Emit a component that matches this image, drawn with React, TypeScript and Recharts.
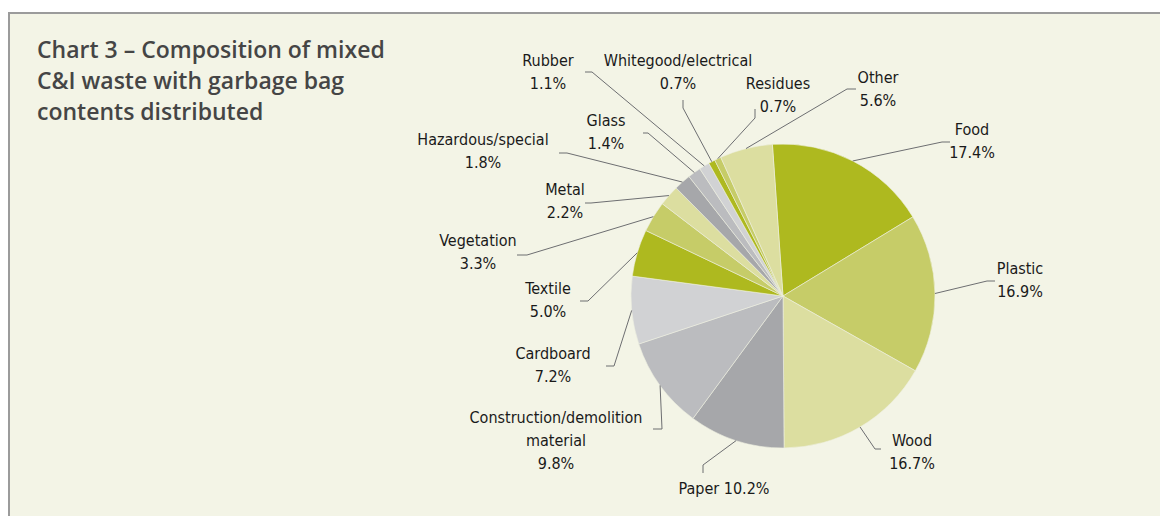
import { PieChart, Pie, Cell } from 'recharts';

const categories = [
    'Food', 'Plastic', 'Wood', 'Paper', 'Construction/demolition material', 'Cardboard', 'Textile',
    'Vegetation', 'Metal', 'Hazardous/special', 'Glass', 'Rubber', 'Whitegood/electrical', 'Residues', 'Other',
];
const shares = [17.4, 16.9, 16.7, 10.2, 9.8, 7.2, 5.0, 3.3, 2.2, 1.8, 1.4, 1.1, 0.7, 0.7, 5.6];
const palette = ['#aeb91f', '#c6cc68', '#dcdea0', '#a6a7aa', '#bbbcbf', '#d1d2d4'];

const CX = 783;
const CY = 296;
const R = 152;

// label placement relative to pie centre: text centre (tx, ty of first line), leader elbow and end
type LabelLayout = { lines?: string[]; tx: number; ty: number; elbow: [number, number]; end: [number, number] };
const layout: Record<string, LabelLayout> = {
    'Food': { tx: 189, ty: -167, elbow: [159, -154], end: [167, -154] },
    'Plastic': { tx: 237, ty: -28, elbow: [204, -15], end: [212, -15] },
    'Wood': { tx: 129, ty: 144, elbow: [92, 153], end: [98, 153] },
    'Paper': { lines: ['Paper 10.2%'], tx: -59, ty: 192, elbow: [-80, 169], end: [-80, 177] },
    'Construction/demolition material': { lines: ['Construction/demolition', 'material'], tx: -227, ty: 121, elbow: [-121, 133], end: [-130, 133] },
    'Cardboard': { tx: -230, ty: 57, elbow: [-169, 70], end: [-177, 70] },
    'Textile': { tx: -235, ty: -8, elbow: [-195, 5], end: [-203, 5] },
    'Vegetation': { tx: -305, ty: -56, elbow: [-256, -41], end: [-266, -41] },
    'Metal': { tx: -218, ty: -107, elbow: [-192, -93], end: [-198, -93] },
    'Hazardous/special': { tx: -300, ty: -157, elbow: [-216, -143], end: [-224, -143] },
    'Glass': { tx: -177, ty: -176, elbow: [-135, -163], end: [-140, -163] },
    'Rubber': { tx: -235, ty: -236, elbow: [-191, -224], end: [-198, -224] },
    'Whitegood/electrical': { tx: -105, ty: -236, elbow: [-100, -188], end: [-100, -196] },
    'Residues': { tx: -5, ty: -213, elbow: [-28, -178], end: [-28, -187] },
    'Other': { tx: 95, ty: -219, elbow: [64, -207], end: [73, -207] },
};

const data = categories.map((name, i) => ({ name, value: shares[i] }));

const RAD = Math.PI / 180;

function renderLabel(props: any) {
    const { cx, cy, midAngle, outerRadius, name, value } = props;
    const l = layout[name];
    if (!l) return null;
    const sx = cx + outerRadius * Math.cos(-midAngle * RAD);
    const sy = cy + outerRadius * Math.sin(-midAngle * RAD);
    const lines = l.lines ? [...l.lines] : [name];
    if (!l.lines || lines.length > 1) lines.push(`${value.toFixed(1)}%`);
    return (
        <g>
            <polyline
                points={`${sx},${sy} ${cx + l.elbow[0]},${cy + l.elbow[1]} ${cx + l.end[0]},${cy + l.end[1]}`}
                fill="none"
                stroke="#6d6e71"
                strokeWidth={1}
            />
            <text
                x={cx + l.tx}
                y={cy + l.ty}
                textAnchor="middle"
                fill="#1a1a1a"
                fontFamily="'DejaVu Sans Condensed', 'DejaVu Sans', sans-serif"
                fontStretch="condensed"
                fontSize={16}
            >
                {lines.map((t, i) => (
                    <tspan key={i} x={cx + l.tx} dy={i === 0 ? '0.35em' : 23}>{t}</tspan>
                ))}
            </text>
        </g>
    );
}

export default function App() {
    return (
        <div style={{ position: 'absolute', left: 0, top: 0, width: 1160, height: 516, background: '#ffffff', overflow: 'hidden' }}>
            <div
                style={{
                    position: 'absolute', left: 8, top: 12, width: 1152, height: 504,
                    background: '#f3f4e6', borderTop: '2px solid #9b9b9b', borderLeft: '2px solid #9b9b9b',
                }}
            />
            <div
                style={{
                    position: 'absolute', left: 37, top: 34, width: 420,
                    fontFamily: "'Open Sans', sans-serif", fontWeight: 600, fontSize: 23, lineHeight: '31px', color: '#454545',
                }}
            >
                Chart 3 – Composition of mixed<br />C&amp;I waste with garbage bag<br />contents distributed
            </div>
            <div style={{ position: 'absolute', left: 0, top: 0 }}>
                <PieChart width={1160} height={516} margin={{ top: 0, right: 0, bottom: 0, left: 0 }}>
                    <Pie
                        data={data}
                        dataKey="value"
                        nameKey="name"
                        cx={CX}
                        cy={CY}
                        outerRadius={R}
                        startAngle={94}
                        endAngle={-266}
                        stroke="#eef0e0"
                        strokeWidth={0.6}
                        label={renderLabel}
                        labelLine={false}
                        isAnimationActive={false}
                    >
                        {data.map((d, i) => (
                            <Cell key={d.name} fill={palette[i % palette.length]} />
                        ))}
                    </Pie>
                </PieChart>
            </div>
        </div>
    );
}
